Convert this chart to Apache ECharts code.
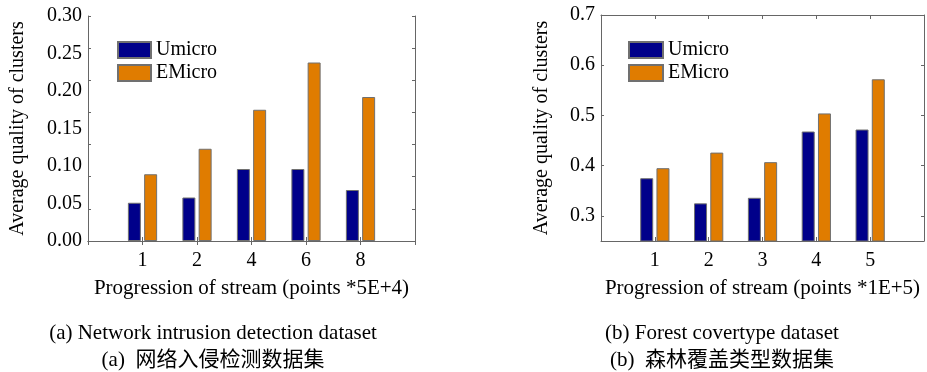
<!DOCTYPE html>
<html><head><meta charset="utf-8">
<script src="https://cdn.jsdelivr.net/npm/echarts@6/dist/echarts.min.js"></script>
<style>html,body{margin:0;padding:0;background:#fff}#c{width:927px;height:372px}</style>
</head><body><div id="c"></div>
<script>
// ---- data ----
const catsA = ['', '1', '2', '4', '6', '8', ''];
const umicroA = [null, 0.051, 0.058, 0.096, 0.096, 0.068, null];
const emicroA = [null, 0.089, 0.123, 0.175, 0.238, 0.192, null];
const catsB = ['', '1', '2', '3', '4', '5', ''];
const umicroB = [null, 0.375, 0.325, 0.336, 0.468, 0.472, null];
const emicroB = [null, 0.395, 0.426, 0.407, 0.504, 0.572, null];
const yLabelsA = [0, 0.05, 0.10, 0.15, 0.20, 0.25, 0.30];
const yLabelsB = [0.3, 0.4, 0.5, 0.6, 0.7];
const seriesNames = ['Umicro', 'EMicro'];
const xTitleA = 'Progression of stream (points *5E+4)';
const xTitleB = 'Progression of stream (points *1E+5)';
const yTitle = 'Average quality of clusters';
const captionA = ['(a) Network intrusion detection dataset', '(a)  网络入侵检测数据集'];
const captionB = ['(b) Forest covertype dataset', '(b)  森林覆盖类型数据集'];

// tick marks of the left chart frame: 7 equal steps over the range
const tickStepsA = 7;
const tickMarksA = [];
for (let i = 0; i <= tickStepsA; i++) tickMarksA.push(0.3 * i / tickStepsA);

const FONT = "'Liberation Serif', 'Times New Roman', 'Noto Sans CJK SC', serif";
const AX = '#666';
const BLUE = '#00008a';
const ORANGE = '#e07c00';
const BORDER = '#707070';

const chart = echarts.init(document.getElementById('c'), null, {renderer: 'canvas'});

function xAxes(cats, gi, title) {
  return [{
    type: 'category', gridIndex: gi, data: cats, boundaryGap: false, position: 'bottom',
    axisLine: {show: true, lineStyle: {color: AX, width: 1}},
    axisTick: {show: true, inside: true, length: 4, lineStyle: {color: AX}},
    axisLabel: {interval: 0, color: '#000', fontFamily: FONT, fontSize: 20, margin: 10},
    splitLine: {show: false},
    name: title, nameLocation: 'middle', nameGap: 37,
    nameTextStyle: {color: '#000', fontFamily: FONT, fontSize: 21}
  }, {
    type: 'category', gridIndex: gi, data: cats, boundaryGap: false, position: 'top',
    axisLine: {show: true, lineStyle: {color: AX, width: 1}},
    axisTick: {show: true, inside: true, length: 4, lineStyle: {color: AX}},
    axisLabel: {show: false}, splitLine: {show: false}
  }];
}

const legendBase = {data: seriesNames, orient: 'vertical', icon: 'rect', padding: 0, itemHeight: 16, itemGap: 3,
  textStyle: {color: '#000', fontFamily: FONT, fontSize: 20}, selectedMode: false};

const option = {
  backgroundColor: '#fff',
  animation: false,
  grid: [
    {left: 88, top: 16, width: 327, height: 225},
    {left: 601, top: 15, width: 328, height: 226}
  ],
  legend: [
    Object.assign({}, legendBase, {left: 117, top: 40, itemWidth: 33}),
    Object.assign({}, legendBase, {left: 628, top: 40, itemWidth: 34})
  ],
  xAxis: [...xAxes(catsA, 0, xTitleA), ...xAxes(catsB, 1, xTitleB)],
  yAxis: [
    {type: 'value', gridIndex: 0, min: 0, max: 0.3, position: 'left',
     axisLine: {show: true, lineStyle: {color: AX}},
     axisTick: {show: true, inside: true, length: 3, customValues: tickMarksA, lineStyle: {color: AX}},
     axisLabel: {customValues: yLabelsA, formatter: v => v.toFixed(2), color: '#000', fontFamily: FONT, fontSize: 20, margin: 6},
     splitLine: {show: false},
     name: yTitle, nameLocation: 'middle', nameGap: 60, nameRotate: 90,
     nameTextStyle: {color: '#000', fontFamily: FONT, fontSize: 20}},
    {type: 'value', gridIndex: 0, min: 0, max: 0.3, position: 'right',
     axisLine: {show: true, lineStyle: {color: AX}},
     axisTick: {show: true, inside: true, length: 3, customValues: tickMarksA, lineStyle: {color: AX}},
     axisLabel: {show: false}, splitLine: {show: false}},
    {type: 'value', gridIndex: 1, min: 0.25, max: 0.7, position: 'left',
     axisLine: {show: true, lineStyle: {color: AX}},
     axisTick: {show: true, inside: true, length: 3, customValues: yLabelsB, lineStyle: {color: AX}},
     axisLabel: {customValues: yLabelsB, formatter: v => v.toFixed(1), color: '#000', fontFamily: FONT, fontSize: 20, margin: 6},
     splitLine: {show: false},
     name: yTitle, nameLocation: 'middle', nameGap: 49, nameRotate: 90,
     nameTextStyle: {color: '#000', fontFamily: FONT, fontSize: 20}},
    {type: 'value', gridIndex: 1, min: 0.25, max: 0.7, position: 'right',
     axisLine: {show: true, lineStyle: {color: AX}},
     axisTick: {show: true, inside: true, length: 3, customValues: yLabelsB, lineStyle: {color: AX}},
     axisLabel: {show: false}, splitLine: {show: false}}
  ],
  series: [
    {name: seriesNames[0], type: 'bar', xAxisIndex: 0, yAxisIndex: 0, data: umicroA, barWidth: 13, barGap: '25%',
     itemStyle: {color: BLUE, borderColor: BORDER, borderWidth: 1}},
    {name: seriesNames[1], type: 'bar', xAxisIndex: 0, yAxisIndex: 0, data: emicroA, barWidth: 13, barGap: '25%',
     itemStyle: {color: ORANGE, borderColor: BORDER, borderWidth: 1}},
    {name: seriesNames[0], type: 'bar', xAxisIndex: 2, yAxisIndex: 2, data: umicroB, barWidth: 13, barGap: '25%',
     itemStyle: {color: BLUE, borderColor: BORDER, borderWidth: 1}},
    {name: seriesNames[1], type: 'bar', xAxisIndex: 2, yAxisIndex: 2, data: emicroB, barWidth: 13, barGap: '25%',
     itemStyle: {color: ORANGE, borderColor: BORDER, borderWidth: 1}}
  ],
  graphic: [
    {type: 'text', x: 213, y: 333, style: {text: captionA[0], fill: '#000', font: "21px " + FONT, textAlign: 'center', textVerticalAlign: 'middle'}},
    {type: 'text', x: 213, y: 360, style: {text: captionA[1], fill: '#000', font: "21px " + FONT, textAlign: 'center', textVerticalAlign: 'middle'}},
    {type: 'text', x: 722, y: 333, style: {text: captionB[0], fill: '#000', font: "21px " + FONT, textAlign: 'center', textVerticalAlign: 'middle'}},
    {type: 'text', x: 722, y: 360, style: {text: captionB[1], fill: '#000', font: "21px " + FONT, textAlign: 'center', textVerticalAlign: 'middle'}}
  ]
};
chart.setOption(option);
</script></body></html>
